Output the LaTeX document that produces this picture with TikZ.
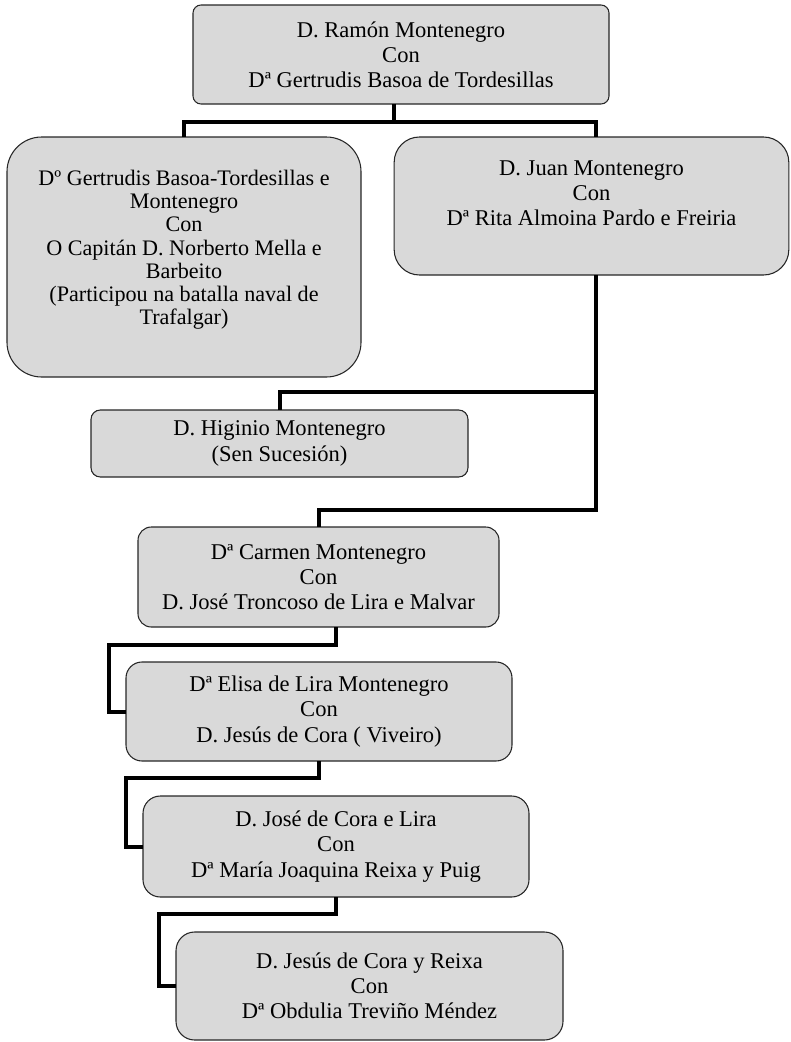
\documentclass[tikz,border=0pt]{standalone}
\usepackage{fontspec}
\setmainfont{Liberation Serif}
\usepackage{tikz}
\usetikzlibrary{positioning,calc}
\definecolor{boxgray}{RGB}{217,217,217}

\begin{document}
\begin{tikzpicture}[
  x=0.75pt, y=-0.75pt,
  person/.style={draw=black!85, line width=0.8pt, fill=boxgray, align=center,
                 inner sep=0pt, outer sep=0pt,
                 font=\fontsize{16.9}{18.9}\selectfont},
  link/.style={line width=3pt, black},
]
\useasboundingbox (0,0) rectangle (791,1042);

\node[person, rounded corners=6pt, minimum width=312pt, minimum height=74.25pt]
  (ramon) at (401,54.5)
  {D. Ramón Montenegro\\ Con\\ Dª Gertrudis Basoa de Tordesillas};
\node[person, rounded corners=26pt, minimum width=265.5pt, minimum height=180pt,
      font=\fontsize{16.6}{17.4}\selectfont, text depth=14.5pt]
  (gertrudis) at (184,257)
  {Dº Gertrudis Basoa-Tordesillas e\\ Montenegro\\ Con\\
   O Capitán D. Norberto Mella e\\ Barbeito\\
   (Participou na batalla naval de\\ Trafalgar)};
\node[person, rounded corners=19pt, minimum width=296pt, minimum height=103.5pt,
      text depth=19pt]
  (juan) at (591.5,206)
  {D. Juan Montenegro\\ Con\\ Dª Rita Almoina Pardo e Freiria};
\node[person, rounded corners=7pt, minimum width=282.75pt, minimum height=50.25pt]
  (higinio) at (279.5,443.5)
  {D. Higinio Montenegro\\ (Sen Sucesión)};
\node[person, rounded corners=10pt, minimum width=270.75pt, minimum height=75pt]
  (carmen) at (318.5,577)
  {Dª Carmen Montenegro\\ Con\\ D. José Troncoso de Lira e Malvar};
\node[person, rounded corners=12pt, minimum width=289.5pt, minimum height=74.25pt]
  (elisa) at (319,711.5)
  {Dª Elisa de Lira Montenegro\\ Con\\ D. Jesús de Cora ( Viveiro)};
\node[person, rounded corners=13pt, minimum width=289.5pt, minimum height=75.75pt]
  (jose) at (336,846.5)
  {D. José de Cora e Lira\\ Con\\ Dª María Joaquina Reixa y Puig};
\node[person, rounded corners=14pt, minimum width=290.25pt, minimum height=81pt]
  (jesus) at (369.5,986)
  {D. Jesús de Cora y Reixa\\ Con\\ Dª Obdulia Treviño Méndez};

% first generation
\draw[link] ([xshift=-5pt]ramon.south) -- ++(0,18);
\draw[link] (gertrudis.north) -- ++(0,-15) -| ([xshift=3.4pt]juan.north);

% children of D. Juan
\coordinate (trunk) at ([xshift=3.4pt]juan.south);
\draw[link] (trunk) -- ++(0,235) -| (carmen.north);
\draw[link] (higinio.north) -- ++(0,-18) -| (trunk);

% line of descent
\draw[link] ([xshift=13pt]carmen.south) -- ++(0,18) -| ($(elisa.west)+(-17,0)$) -- (elisa.west);
\foreach \a/\b in {elisa/jose, jose/jesus}{
  \draw[link] (\a.south) -- ++(0,17) -| ($(\b.west)+(-17,0)$) -- (\b.west);
}

\end{tikzpicture}
\end{document}
